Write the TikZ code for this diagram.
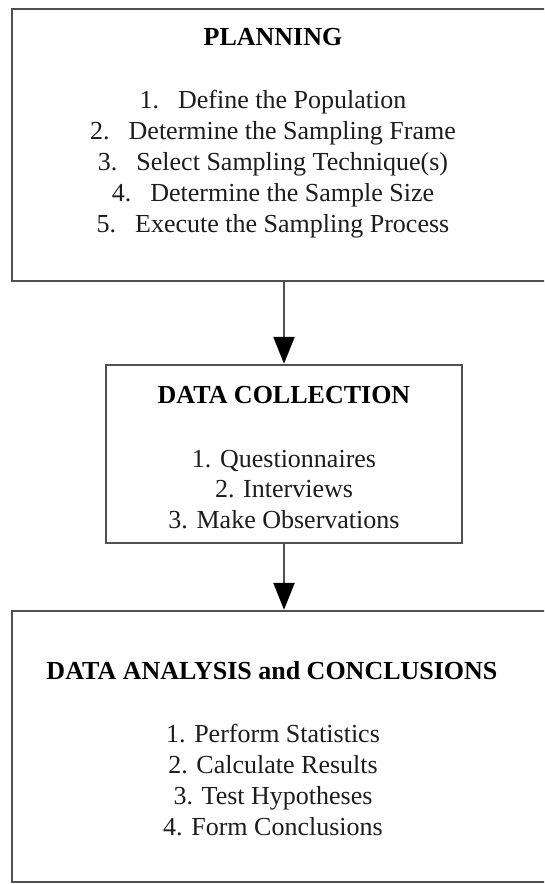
\documentclass[tikz,border=0pt]{standalone}
\usepackage{fontspec}
\setmainfont{Liberation Serif}
\usetikzlibrary{arrows.meta}
\definecolor{edge}{RGB}{80,80,80}
\definecolor{ink}{RGB}{28,28,28}
\begin{document}
\begin{tikzpicture}[x=1pt,y=-1pt,
  stagebox/.style={draw=edge,line width=2.4pt,rectangle,inner sep=0pt},
  heading/.style={font=\fontsize{26}{31}\selectfont\bfseries,text=black,inner sep=0pt,anchor=base},
  item/.style={font=\fontsize{26}{31}\selectfont,text=ink,inner sep=0pt,anchor=base},
  flow/.style={draw=edge,line width=2.4pt,-{Triangle[width=21pt,length=27pt,color=black,fill=black]}}]
\useasboundingbox (0,0) rectangle (544,884);
\clip (0,0) rectangle (544,884);

% stage boxes (the wide ones run on past the right edge)
\node[stagebox,minimum width=608pt,minimum height=272pt] (plan) at (316,145) {};
\node[stagebox,minimum width=356pt,minimum height=178pt] (collect) at (284,454) {};
\node[stagebox,minimum width=608pt,minimum height=271pt] (analysis) at (316,746.5) {};

% flow between stages
\draw[flow] (collect.north |- plan.south) -- (collect.north);
\draw[flow] (collect.south) -- (collect.south |- analysis.north);

% planning
\node[heading] (planT) at (273,45) {PLANNING};
\node[item] (p1) at (273,108) {1.\hspace{19pt}Define the Population};
\node[item] (p2) at (273,139) {2.\hspace{19pt}Determine the Sampling Frame};
\node[item] (p3) at (273,170) {3.\hspace{19pt}Select Sampling Technique(s)};
\node[item] (p4) at (273,201) {4.\hspace{19pt}Determine the Sample Size};
\node[item] (p5) at (273,232) {5.\hspace{19pt}Execute the Sampling Process};

% data collection
\node[heading] (collectT) at (284,403) {DATA COLLECTION};
\node[item] (c1) at (284,467) {1. Questionnaires};
\node[item] (c2) at (284,497) {2. Interviews};
\node[item] (c3) at (284,528) {3. Make Observations};

% data analysis and conclusions
\node[heading] (analysisT) at (272,679) {DATA ANALYSIS and CONCLUSIONS};
\node[item] (a1) at (273,742) {1. Perform Statistics};
\node[item] (a2) at (273,773) {2. Calculate Results};
\node[item] (a3) at (273,804) {3. Test Hypotheses};
\node[item] (a4) at (273,835) {4. Form Conclusions};
\end{tikzpicture}
\end{document}
